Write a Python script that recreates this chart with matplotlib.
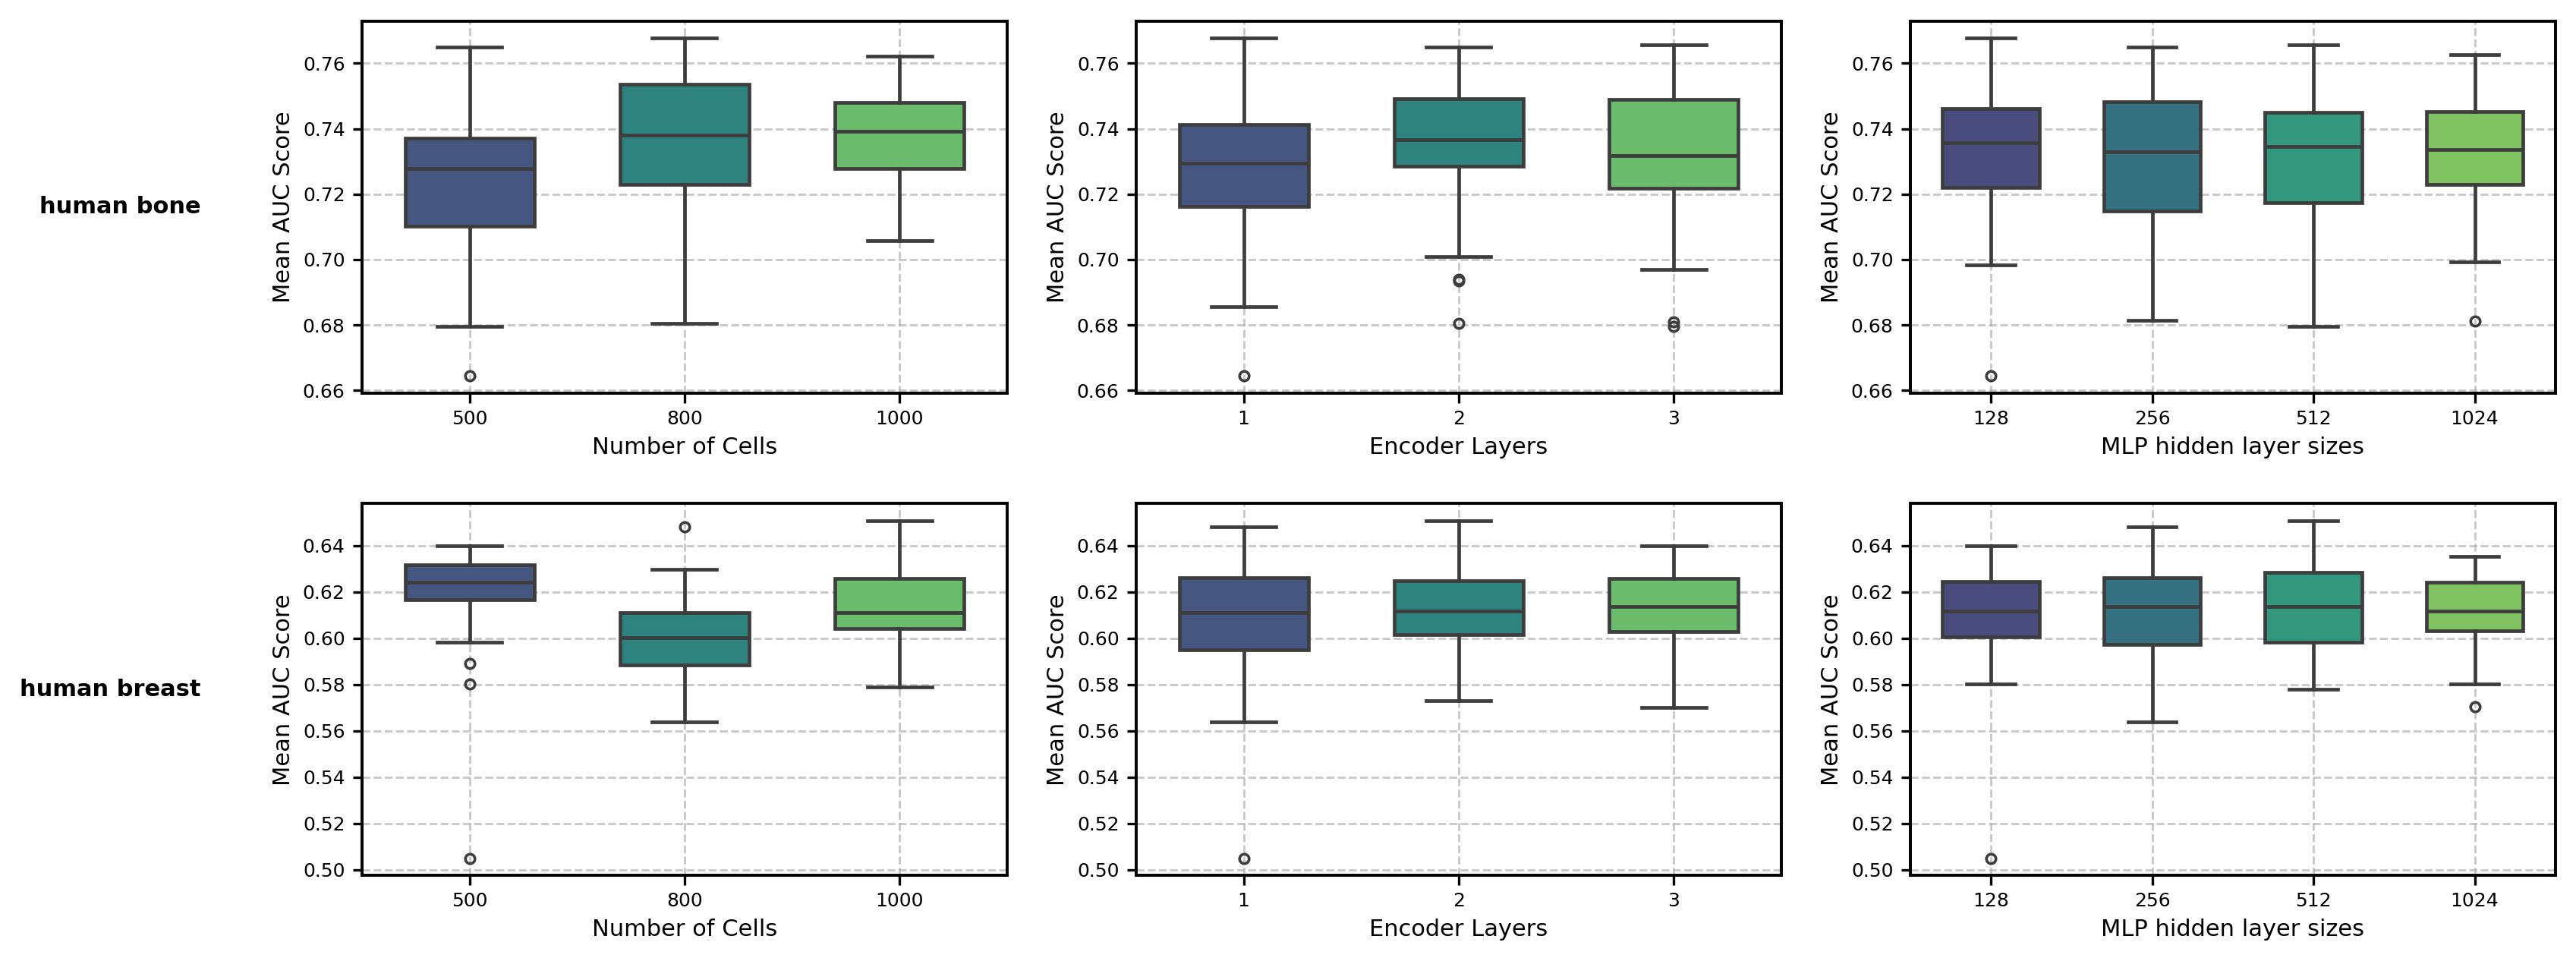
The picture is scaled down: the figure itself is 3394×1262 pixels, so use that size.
import colorsys
import matplotlib
matplotlib.use("Agg")
import matplotlib.pyplot as plt
from matplotlib import cm

# x categories
cells_labels = ["500", "800", "1000"]
enc_labels = ["1", "2", "3"]
mlp_labels = ["128", "256", "512", "1024"]

# human bone - box stats
bone_cells_lo = [0.6795, 0.6804, 0.7059]
bone_cells_q1 = [0.7102, 0.7230, 0.7278]
bone_cells_med = [0.7278, 0.7381, 0.7393]
bone_cells_q3 = [0.7372, 0.7535, 0.7480]
bone_cells_hi = [0.7649, 0.7677, 0.7623]
bone_cells_out = [[0.6644], [], []]

bone_enc_lo = [0.6856, 0.7010, 0.6969]
bone_enc_q1 = [0.7162, 0.7286, 0.7219]
bone_enc_med = [0.7294, 0.7367, 0.7318]
bone_enc_q3 = [0.7413, 0.7492, 0.7490]
bone_enc_hi = [0.7677, 0.7649, 0.7657]
bone_enc_out = [[0.6644], [0.6935, 0.6940, 0.6804], [0.6810, 0.6796]]

bone_mlp_lo = [0.6984, 0.6814, 0.6795, 0.6993]
bone_mlp_q1 = [0.7220, 0.7148, 0.7173, 0.7230]
bone_mlp_med = [0.7358, 0.7330, 0.7345, 0.7337]
bone_mlp_q3 = [0.7461, 0.7482, 0.7449, 0.7453]
bone_mlp_hi = [0.7677, 0.7649, 0.7657, 0.7626]
bone_mlp_out = [[0.6644], [], [], [0.6812]]

# human breast
breast_cells_lo = [0.5984, 0.5640, 0.5789]
breast_cells_q1 = [0.6166, 0.5883, 0.6043]
breast_cells_med = [0.6243, 0.6004, 0.6112]
breast_cells_q3 = [0.6317, 0.6109, 0.6259]
breast_cells_hi = [0.6400, 0.6297, 0.6508]
breast_cells_out = [[0.5891, 0.5804, 0.5050], [0.6482], []]

breast_enc_lo = [0.5640, 0.5731, 0.5702]
breast_enc_q1 = [0.5951, 0.6015, 0.6029]
breast_enc_med = [0.6109, 0.6118, 0.6136]
breast_enc_q3 = [0.6260, 0.6248, 0.6259]
breast_enc_hi = [0.6482, 0.6508, 0.6400]
breast_enc_out = [[0.5050], [], []]

breast_mlp_lo = [0.5801, 0.5640, 0.5779, 0.5804]
breast_mlp_q1 = [0.6007, 0.5973, 0.5982, 0.6033]
breast_mlp_med = [0.6116, 0.6136, 0.6136, 0.6116]
breast_mlp_q3 = [0.6244, 0.6260, 0.6284, 0.6243]
breast_mlp_hi = [0.6400, 0.6482, 0.6508, 0.6352]
breast_mlp_out = [[0.5050], [], [], [0.5703]]

row_names = ["human bone", "human breast"]
x_titles = ["Number of Cells", "Encoder Layers", "MLP hidden layer sizes"]

panels = [
    [(cells_labels, bone_cells_lo, bone_cells_q1, bone_cells_med, bone_cells_q3, bone_cells_hi, bone_cells_out),
     (enc_labels, bone_enc_lo, bone_enc_q1, bone_enc_med, bone_enc_q3, bone_enc_hi, bone_enc_out),
     (mlp_labels, bone_mlp_lo, bone_mlp_q1, bone_mlp_med, bone_mlp_q3, bone_mlp_hi, bone_mlp_out)],
    [(cells_labels, breast_cells_lo, breast_cells_q1, breast_cells_med, breast_cells_q3, breast_cells_hi, breast_cells_out),
     (enc_labels, breast_enc_lo, breast_enc_q1, breast_enc_med, breast_enc_q3, breast_enc_hi, breast_enc_out),
     (mlp_labels, breast_mlp_lo, breast_mlp_q1, breast_mlp_med, breast_mlp_q3, breast_mlp_hi, breast_mlp_out)],
]

line_col = "#3d3d3d"


def viridis_colors(n):
    # seaborn-like: interior samples of viridis, desaturated to 0.75
    out = []
    for i in range(n):
        r, g, b, _ = cm.viridis((i + 1) / (n + 1))
        h, l, s = colorsys.rgb_to_hls(r, g, b)
        out.append(colorsys.hls_to_rgb(h, l, s * 0.75))
    return out


fig, axes = plt.subplots(2, 3, figsize=(16.97, 6.31), dpi=200)
fig.subplots_adjust(left=0.1405, right=0.992, top=0.9778, bottom=0.0864,
                    wspace=0.2, hspace=0.298)

for r in range(2):
    for c in range(3):
        ax = axes[r, c]
        labels, lo, q1, med, q3, hi, out = panels[r][c]
        stats = []
        for i in range(len(labels)):
            stats.append(dict(whislo=lo[i], q1=q1[i], med=med[i], q3=q3[i],
                              whishi=hi[i], fliers=out[i]))
        n = len(labels)
        bp = ax.bxp(stats, positions=range(n), widths=0.6, patch_artist=True,
                    boxprops=dict(edgecolor=line_col, linewidth=1.7),
                    medianprops=dict(color=line_col, linewidth=1.7),
                    whiskerprops=dict(color=line_col, linewidth=1.7),
                    capprops=dict(color=line_col, linewidth=1.7),
                    flierprops=dict(marker="o", markerfacecolor="none",
                                    markeredgecolor=line_col, markersize=4.5,
                                    markeredgewidth=1.3))
        for patch, col in zip(bp["boxes"], viridis_colors(n)):
            patch.set_facecolor(col)
        ax.set_xlim(-0.5, n - 0.5)
        ax.set_xticks(range(n))
        ax.set_xticklabels(labels)
        ax.tick_params(labelsize=9, width=1.2, length=4.5)
        ax.set_xlabel(x_titles[c], fontsize=11)
        ax.set_ylabel("Mean AUC Score", fontsize=11)
        ax.grid(True, linestyle="--", alpha=0.7, linewidth=1.0)
        for sp in ax.spines.values():
            sp.set_linewidth(1.4)

    # row label on the left side
    pos = axes[r, 0].get_position()
    fig.text(0.078, (pos.y0 + pos.y1) / 2, row_names[r], ha="right",
             va="center", fontsize=11, fontweight="bold")

fig.savefig("out.png", dpi=200)
